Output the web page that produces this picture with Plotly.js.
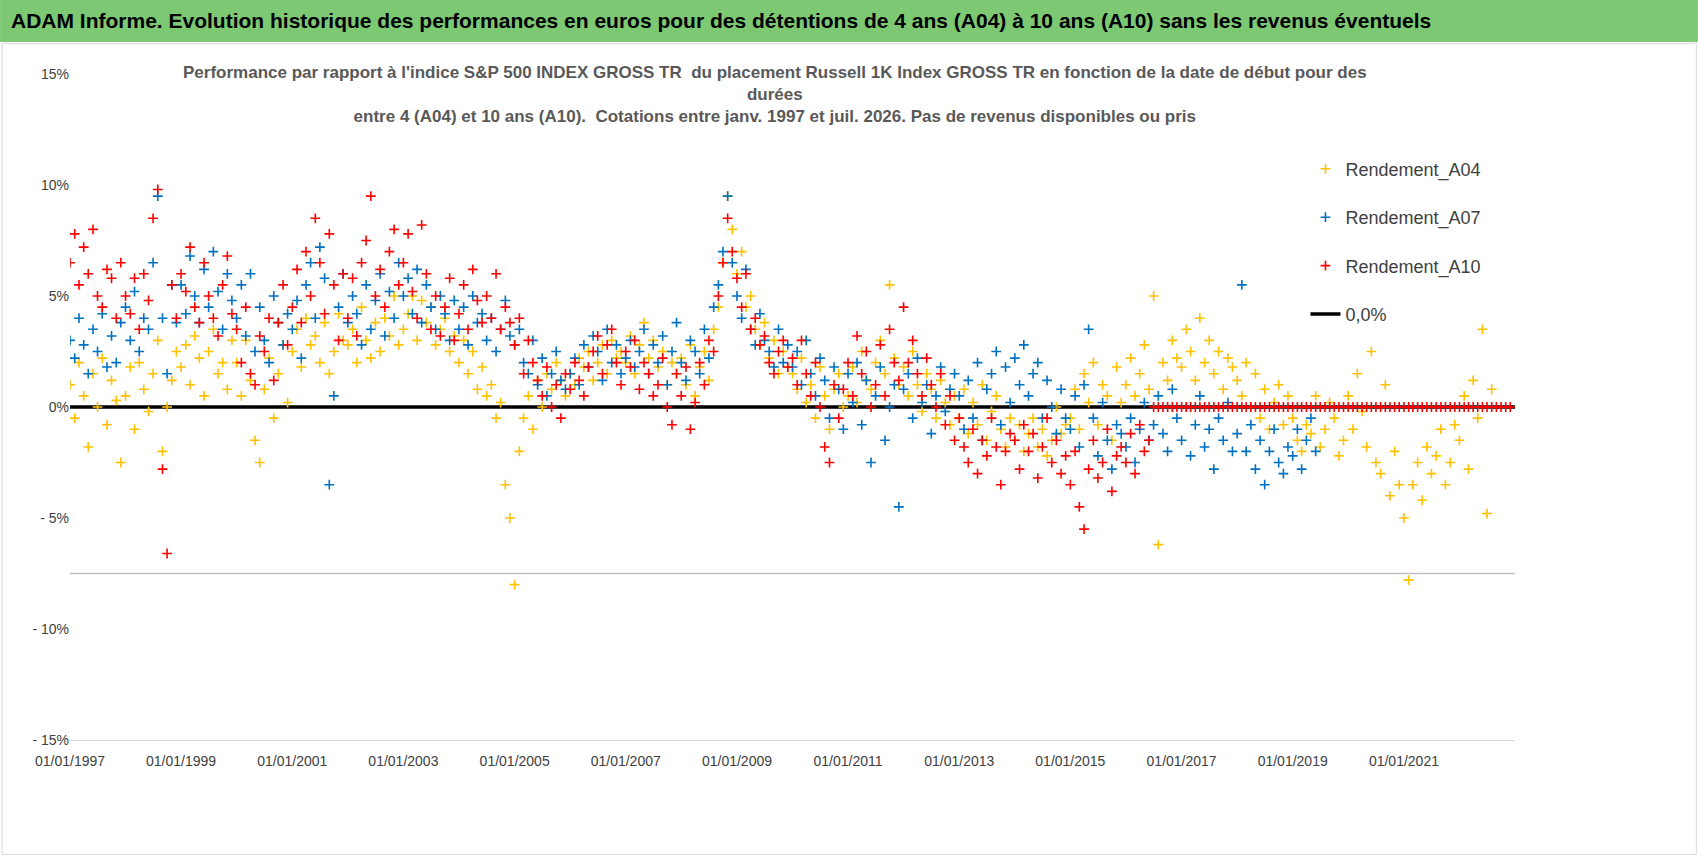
<!DOCTYPE html>
<html><head><meta charset="utf-8">
<script src="https://cdn.plot.ly/plotly-3.0.1.min.js"></script>
<style>body{margin:0;background:#fff}#c{width:1698px;height:856px}</style>
</head><body><div id="c"></div>
<script>
const a10Start=[1997,1], a07Start=[1997,1], a04Start=[1997,1], a10ZeroStart=[2016,7];
const A10=[6.5,7.8,5.5,7.2,6.0,8.0,5.0,4.5,6.2,5.8,4.0,6.5,
5.0,4.2,5.8,3.5,6.0,4.8,8.5,9.8,-2.8,-6.6,5.5,4.0,
6.0,5.2,7.2,4.5,3.8,6.5,5.0,4.0,3.2,5.5,6.8,4.2,
3.5,2.0,4.5,1.5,1.0,3.2,2.5,4.0,1.2,3.8,5.5,2.8,
4.5,6.2,3.8,7.0,5.0,8.5,6.5,4.2,7.8,5.5,3.0,6.0,
4.0,5.8,3.2,6.5,7.5,9.5,5.0,6.2,4.5,7.0,8.0,5.5,
6.5,7.8,5.2,4.0,8.2,6.0,3.5,5.0,3.2,4.5,5.8,3.0,
4.2,5.5,3.5,6.2,4.8,3.8,5.0,4.0,6.0,3.5,4.5,3.8,
2.8,4.0,1.5,3.0,2.0,1.2,0.5,1.8,0.0,1.0,-0.5,1.5,
0.8,2.0,1.2,0.5,1.8,2.5,3.2,1.5,2.8,3.5,2.0,1.0,
2.5,1.8,3.0,0.8,2.0,1.5,0.5,1.0,2.2,0.0,-0.8,1.5,
0.5,1.8,-1.0,0.2,2.0,1.0,3.0,2.5,5.0,6.5,8.5,7.0,
5.8,4.5,6.0,3.5,4.0,2.8,3.2,2.0,1.5,2.5,3.0,1.8,
2.2,1.0,3.0,1.5,0.5,2.0,0.0,-1.8,-2.5,1.0,-0.5,0.8,
2.0,0.5,3.2,1.5,2.5,0.0,1.0,2.8,0.5,3.5,2.0,1.2,
4.5,2.0,3.0,1.5,0.5,2.2,1.0,0.0,1.5,-0.8,0.5,-1.5,
-0.5,-1.8,-2.5,-1.0,-3.0,-1.5,-2.2,-0.5,-1.8,-3.5,-2.0,-1.2,
-1.5,-2.8,-0.8,-2.0,-1.2,-3.2,-1.8,-0.5,-2.5,-1.5,-3.0,-2.2,
-3.5,-2.0,-4.5,-5.5,-2.8,-1.5,-3.2,-2.5,-1.0,-3.8,-2.2,-1.8,
-2.5,-1.2,-3.0,-0.8,-2.0,-1.5];
const A10zero=[0,0,0,0,0,0,0,0,0,0,0,0,0,0,0,0,0,0,0,0,0,0,0,0,0,0,0,0,0,0,0,0,0,0,0,0,0,0,0,0,
0,0,0,0,0,0,0,0,0,0,0,0,0,0,0,0,0,0,0,0,0,0,0,0,0,0,0,0,0,0,0,0,0,0,0,0,0,0];
const A07=[3.0,2.2,4.0,2.8,1.5,3.5,2.5,4.2,1.8,3.2,2.0,3.8,
4.5,3.0,5.2,2.5,4.0,3.5,6.5,9.5,4.0,1.5,5.5,3.8,
5.5,4.2,6.8,5.0,3.8,6.2,4.5,7.0,5.2,3.5,6.0,4.8,
4.0,5.5,3.2,6.0,2.5,4.5,3.0,2.0,5.0,3.8,2.8,4.2,
3.5,4.8,2.2,5.5,6.5,4.0,7.2,5.8,-3.5,0.5,4.5,6.0,
3.8,5.0,4.2,2.8,5.5,3.5,4.8,6.0,3.2,5.2,4.0,6.5,
5.0,5.8,4.2,6.2,3.8,5.5,4.5,3.5,5.0,4.2,3.0,4.8,
3.5,4.5,2.8,5.0,3.8,4.2,3.0,4.0,2.5,3.5,4.8,3.2,
2.8,3.5,2.0,1.5,3.0,1.0,2.2,0.5,1.5,2.5,1.2,0.8,
1.5,2.2,1.0,2.8,1.8,3.2,2.5,1.2,3.5,2.0,2.8,1.5,
2.2,3.0,1.8,2.5,3.5,1.5,2.8,2.0,3.2,1.0,2.5,3.8,
2.0,1.2,3.0,2.5,1.5,3.5,2.2,4.5,5.5,7.0,9.5,6.5,
5.0,4.0,6.2,3.5,2.8,4.2,3.0,2.5,1.8,3.5,2.0,2.8,
1.8,2.5,1.0,3.0,1.5,0.5,2.2,1.2,-0.5,1.8,0.8,-1.0,
1.5,0.2,2.0,-0.8,1.2,-2.5,0.5,1.8,-1.5,0.0,1.0,-4.5,
0.8,1.5,-0.5,2.2,0.2,1.0,-1.2,0.5,1.8,-0.2,0.8,1.5,
0.5,-1.0,1.2,-0.5,2.0,-1.5,0.8,1.5,2.5,-0.8,1.8,0.2,
2.2,1.0,2.8,0.5,1.5,2.0,-0.5,1.2,0.0,-1.2,0.8,-0.5,
-1.0,0.5,-1.8,1.0,3.5,-0.5,-2.2,0.2,-1.5,-2.8,-0.8,-1.2,
-1.8,-0.5,-2.5,-1.0,0.2,-1.5,-0.8,0.5,-1.2,-2.0,0.8,-0.5,
-1.5,0.0,-2.2,-0.8,0.5,-1.8,-1.0,-2.8,-0.5,-1.5,0.2,-2.0,
-1.2,5.5,-2.0,-0.8,-2.8,-1.5,-3.5,-2.0,-1.0,-2.5,-3.0,-1.8,
-2.2,-1.0,-2.8,-1.5,-0.5,-2.0];
const A04=[1.0,-0.5,2.0,0.5,-1.8,1.5,0.0,2.2,-0.8,1.2,0.3,-2.5,
0.5,1.8,-1.0,2.0,0.8,-0.2,1.5,3.0,-2.0,0.0,1.2,2.5,
1.8,2.8,1.0,3.2,2.2,0.5,2.5,3.5,1.5,2.0,0.8,3.0,
2.0,0.5,3.0,1.2,-1.5,-2.5,0.8,2.2,-0.5,1.5,2.8,0.2,
2.5,3.5,1.8,4.0,2.8,3.2,2.0,3.8,1.5,2.5,4.2,3.0,
2.8,3.5,2.0,4.5,3.0,2.2,3.8,2.5,4.0,3.2,5.0,2.8,
3.5,4.2,5.0,3.0,4.8,3.8,4.5,2.8,3.5,4.0,2.5,3.2,
2.0,3.0,1.5,2.5,0.8,1.8,0.5,1.0,-0.5,0.2,-3.5,-5.0,
-8.0,-2.0,-0.5,0.5,-1.0,1.2,0.0,1.5,0.8,2.0,1.2,0.5,
1.5,1.0,2.2,1.8,2.5,1.2,2.0,2.8,1.5,3.0,2.2,2.5,
2.0,3.2,1.5,2.8,3.8,2.2,3.0,1.8,2.5,1.0,2.0,1.5,
2.2,1.0,2.8,0.5,1.8,2.5,1.2,3.5,4.5,6.5,9.5,8.0,
6.0,7.0,4.5,5.0,3.5,2.8,3.8,2.2,3.0,1.5,2.5,1.8,
1.5,0.8,2.2,0.2,1.0,-0.5,1.8,0.5,-1.0,0.8,1.5,0.0,
0.5,1.8,0.2,2.5,1.2,0.8,2.0,3.0,1.5,5.5,2.2,1.0,
1.8,0.5,2.5,1.0,-0.2,1.5,0.8,-0.5,1.2,0.2,-0.8,0.5,
-0.5,0.8,-1.2,0.2,-0.8,1.0,-1.5,-0.2,0.5,-1.0,-1.8,-0.5,
-1.5,-0.8,-2.0,-1.2,-0.5,-1.8,-1.0,-2.2,-1.5,0.0,-1.2,-0.8,
-0.5,0.8,-1.0,1.5,0.2,2.0,-0.8,1.0,0.5,-1.5,1.8,0.2,
1.0,2.2,0.5,1.5,2.8,0.8,5.0,-6.2,2.0,1.2,3.0,2.2,
1.8,3.5,2.5,1.2,4.0,2.0,3.0,1.5,2.5,0.8,2.2,1.8,
1.2,0.5,2.0,0.0,1.5,-0.5,0.8,-1.0,0.2,1.0,-0.8,0.5,
-0.5,-1.5,-2.0,-0.8,-1.2,0.5,-1.8,-1.0,0.2,-0.5,-2.2,-1.5,
0.5,-1.0,1.5,-0.2,-1.8,2.5,-2.5,-3.0,1.0,-4.0,-2.0,-3.5,
-5.0,-7.8,-3.5,-2.5,-4.2,-1.8,-3.0,-2.2,-1.0,-3.5,-2.5,-0.8,
-1.5,0.5,-2.8,1.2,-0.5,3.5,-4.8,0.8];
const zeroX=['1997-01-01','2023-01-01'], zeroY=[0,0];
const yTickVals=[15,10,5,0,-5,-10,-15];
const yTickText=['15%','10%','5%','0%','- 5%','- 10%','- 15%'];
const xTickVals=['1997-01-01','1999-01-01','2001-01-01','2003-01-01','2005-01-01','2007-01-01','2009-01-01','2011-01-01','2013-01-01','2015-01-01','2017-01-01','2019-01-01','2021-01-01'];
const xTickText=['01/01/1997','01/01/1999','01/01/2001','01/01/2003','01/01/2005','01/01/2007','01/01/2009','01/01/2011','01/01/2013','01/01/2015','01/01/2017','01/01/2019','01/01/2021'];

function months(start,n){const o=[];let y=start[0],m=start[1];for(let i=0;i<n;i++){o.push(y+'-'+String(m).padStart(2,'0')+'-01');m++;if(m>12){m=1;y++;}}return o;}
function mk(name,x,y,color,rank,show){return {type:'scatter',mode:'markers',name,x,y,legendrank:rank,showlegend:show,legendgroup:name,
 marker:{symbol:'cross-thin',size:7,color,line:{color,width:1.6}}};}
const traces=[
 {type:'scatter',mode:'lines',name:'0,0%',x:zeroX,y:zeroY,line:{color:'#000',width:3.5},legendrank:4,legendgroup:'z'},
 mk('Rendement_A04',months(a04Start,A04.length),A04,'#FFC000',1,true),
 mk('Rendement_A07',months(a07Start,A07.length),A07,'#0070C0',2,true),
 mk('Rendement_A10',months(a10Start,A10.length),A10,'#FF0000',3,true),
 mk('Rendement_A10',months(a10ZeroStart,A10zero.length),A10zero,'#FF0000',3,false)
];
const font='Liberation Sans Narrow, Liberation Sans, Arial';
const layout={width:1698,height:856,margin:{l:70,r:183,t:74,b:116},paper_bgcolor:'#fff',plot_bgcolor:'#fff',
 font:{family:font,color:'#595959'},
 xaxis:{type:'date',range:['1997-01-01','2023-01-01'],tickvals:xTickVals,ticktext:xTickText,tickangle:0,showgrid:false,zeroline:false,
   showline:true,linecolor:'#d9d9d9',ticks:'outside',ticklen:8,tickcolor:'#fff',tickfont:{size:14,color:'#404040',family:font}},
 yaxis:{range:[-15,15],tickvals:yTickVals,ticktext:yTickText,showgrid:false,zeroline:false,showline:false,ticks:'',tickfont:{size:14,color:'#404040',family:font}},
 showlegend:true,
 legend:{x:0.855,y:0.885,xanchor:'left',yanchor:'top',font:{size:18,color:'#404040',family:font},tracegroupgap:22,bgcolor:'rgba(255,255,255,0)'},
 shapes:[
  {type:'rect',xref:'paper',yref:'paper',x0:-0.0484,x1:1.1266,y0:1.048,y1:1.111,fillcolor:'#7DC873',line:{width:0},layer:'below'},
  {type:'line',xref:'paper',yref:'y',x0:0,x1:1,y0:-7.5,y1:-7.5,line:{color:'#bfbfbf',width:1.5}},
  {type:'rect',xref:'paper',yref:'paper',x0:-0.047,x1:1.1255,y0:-0.172,y1:1.046,line:{color:'#d9d9d9',width:1},fillcolor:'rgba(0,0,0,0)'}
 ],
 annotations:[
  {xref:'paper',yref:'paper',x:-0.042,y:1.0796,xanchor:'left',yanchor:'middle',showarrow:false,
   text:'<b>ADAM Informe. Evolution historique des performances en euros pour des détentions de 4 ans (A04) à 10 ans (A10) sans les revenus éventuels</b>',
   font:{size:21,color:'#000',family:font}},
  {xref:'paper',yref:'paper',x:0.488,y:1.02,xanchor:'center',yanchor:'top',showarrow:false,align:'center',
   text:"<b>Performance par rapport à l'indice S&P 500 INDEX GROSS TR  du placement Russell 1K Index GROSS TR en fonction de la date de début pour des<br>durées<br>entre 4 (A04) et 10 ans (A10).  Cotations entre janv. 1997 et juil. 2026. Pas de revenus disponibles ou pris</b>",
   font:{size:17,color:'#595959',family:font}}
 ]};
Plotly.newPlot('c',traces,layout,{displayModeBar:false});
</script></body></html>
